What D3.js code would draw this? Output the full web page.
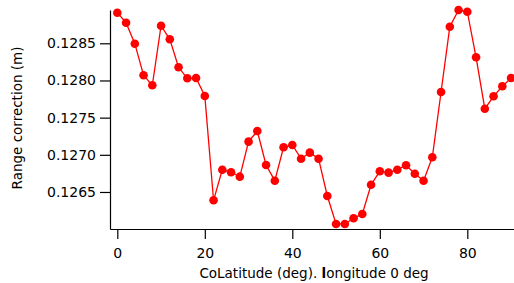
<!DOCTYPE html>
<html>
<head>
<meta charset="utf-8">
<script src="https://cdn.jsdelivr.net/npm/d3@7"></script>
<style>
  body { margin: 0; background: #fff; }
  svg { display: block; font-family: "DejaVu Sans", sans-serif; }
  .axis path, .axis line { stroke: #000; stroke-width: 1.2; }
  .axis text { font-size: 14px; fill: #000; }
  .axis-label { font-size: 13.5px; fill: #000; }
</style>
</head>
<body>
<div id="chart"></div>
<script>
// CoLatitude (deg) at longitude 0
const colatitude = [0, 2, 4, 6, 8, 10, 12, 14, 16, 18, 20, 22, 24, 26, 28, 30, 32, 34, 36, 38,
  40, 42, 44, 46, 48, 50, 52, 54, 56, 58, 60, 62, 64, 66, 68, 70, 72, 74, 76, 78, 80, 82, 84, 86, 88, 90];

// Range correction (m)
const rangeCorrection = [0.128912, 0.128777, 0.128495, 0.128070, 0.127935, 0.128737, 0.128554, 0.128177,
  0.128029, 0.128033, 0.127791, 0.126388, 0.126800, 0.126765, 0.126706, 0.127177, 0.127320, 0.126863,
  0.126652, 0.127101, 0.127132, 0.126948, 0.127029, 0.126948, 0.126446, 0.126070, 0.126070, 0.126146,
  0.126204, 0.126598, 0.126778, 0.126760, 0.126800, 0.126859, 0.126746, 0.126652, 0.126967, 0.127845,
  0.128723, 0.128948, 0.128925, 0.128312, 0.127620, 0.127787, 0.127922, 0.128033];

const xTicks = [0, 20, 40, 60, 80];
const yTicks = [0.1265, 0.1270, 0.1275, 0.1280, 0.1285];

const data = colatitude.map((c, i) => ({ x: c, y: rangeCorrection[i] }));

const W = 514, H = 283;
const margin = { left: 110, right: 514, top: 10, bottom: 229 };

const svg = d3.select('#chart')
  .append('svg')
  .attr('width', W)
  .attr('height', H);

const x = d3.scaleLinear()
  .domain([-1.67, 90.67])
  .range([margin.left, margin.right]);

const y = d3.scaleLinear()
  .domain([0.126002, 0.128948])
  .range([margin.bottom, margin.top]);

const xAxis = d3.axisBottom(x)
  .tickValues(xTicks)
  .tickSize(10)
  .tickSizeOuter(0)
  .tickPadding(9)
  .tickFormat(d3.format('d'));

const yAxis = d3.axisLeft(y)
  .tickValues(yTicks)
  .tickSize(10)
  .tickSizeOuter(0)
  .tickPadding(4)
  .tickFormat(d3.format('.4f'));

svg.append('g')
  .attr('class', 'axis axis-x')
  .attr('transform', `translate(0,${margin.bottom})`)
  .call(xAxis);

svg.append('g')
  .attr('class', 'axis axis-y')
  .attr('transform', `translate(${margin.left},0)`)
  .call(yAxis);

svg.selectAll('.axis').attr('font-family', null).attr('font-size', null);

const line = d3.line()
  .x(d => x(d.x))
  .y(d => y(d.y));

svg.append('path')
  .datum(data)
  .attr('fill', 'none')
  .attr('stroke', '#ff0000')
  .attr('stroke-width', 1.3)
  .attr('d', line);

svg.selectAll('.dot')
  .data(data)
  .enter()
  .append('circle')
  .attr('class', 'dot')
  .attr('cx', d => x(d.x))
  .attr('cy', d => y(d.y))
  .attr('r', 4.3)
  .attr('fill', '#ff0000');

const xLabel = svg.append('text')
  .attr('class', 'axis-label')
  .attr('x', 314)
  .attr('y', 278)
  .attr('text-anchor', 'middle');
xLabel.append('tspan').text('CoLatitude (deg). ');
xLabel.append('tspan').attr('font-weight', 'bold').text('l');
xLabel.append('tspan').text('ongitude 0 deg');

svg.append('text')
  .attr('class', 'axis-label')
  .attr('transform', 'rotate(-90)')
  .attr('x', -118)
  .attr('y', 22)
  .attr('text-anchor', 'middle')
  .text('Range correction (m)');
</script>
</body>
</html>
